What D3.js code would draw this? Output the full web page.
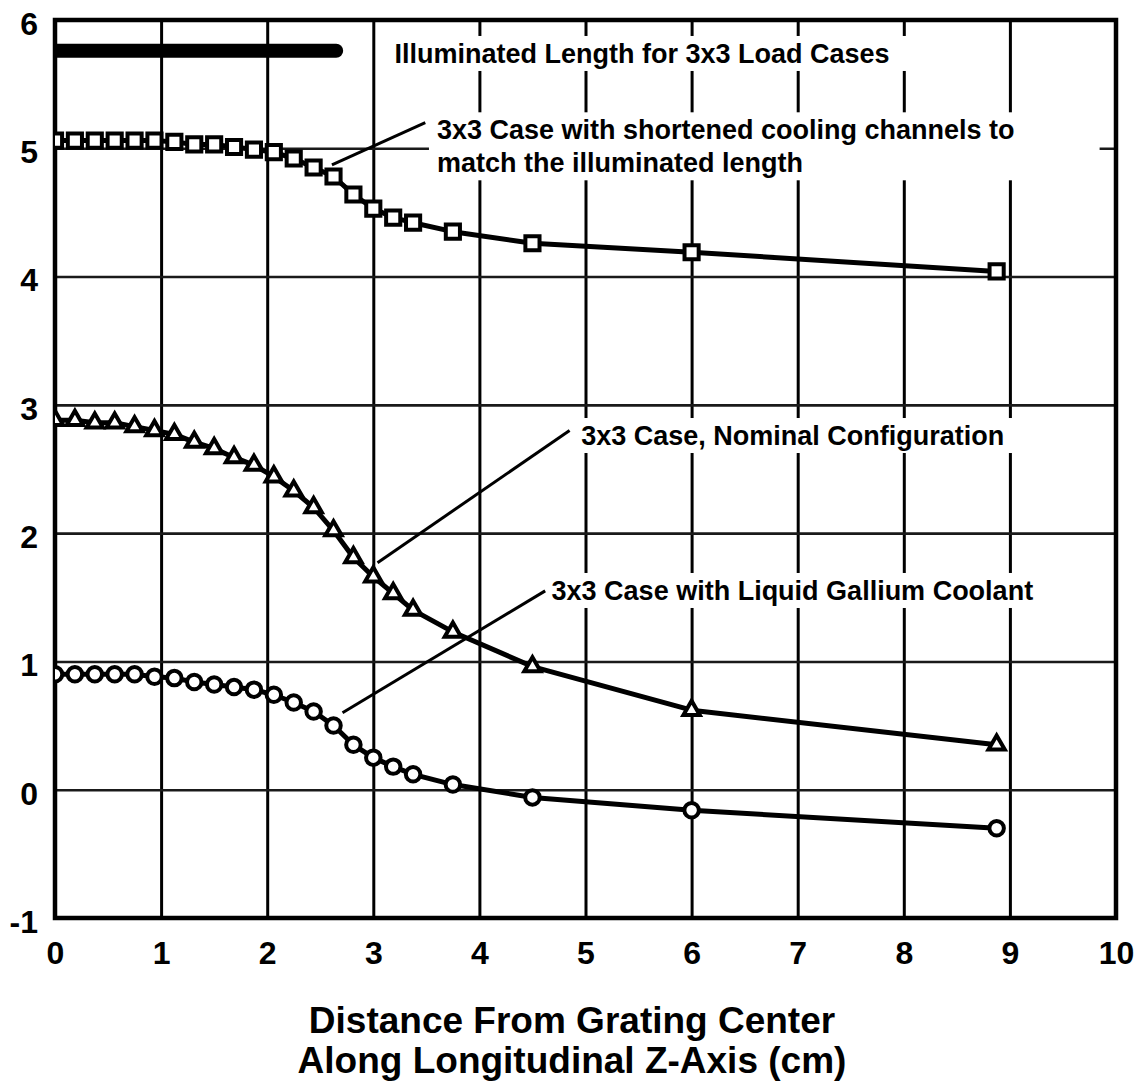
<!DOCTYPE html>
<html>
<head>
<meta charset="utf-8">
<script src="https://cdn.jsdelivr.net/npm/d3@7"></script>
<style>
  body { margin: 0; background: #fff; }
  text { font-family: "Liberation Sans", Arial, Helvetica, sans-serif; font-weight: bold; fill: #000; }
</style>
</head>
<body>
<div id="chart-container"></div>
<script>
// Distance along z-axis (cm), shared by all three load cases
const distance = [0, 0.1875, 0.375, 0.5625, 0.75, 0.9375, 1.125, 1.3125, 1.5, 1.6875, 1.875, 2.0625,
  2.25, 2.4375, 2.625, 2.8125, 3.0, 3.1875, 3.375, 3.75, 4.5, 6.0, 8.875];

const shortenedChannels = [5.06, 5.06, 5.06, 5.06, 5.06, 5.06, 5.05, 5.03, 5.03, 5.01, 4.99, 4.97,
  4.92, 4.85, 4.78, 4.64, 4.53, 4.46, 4.42, 4.35, 4.26, 4.19, 4.04];
const nominal = [2.88, 2.88, 2.86, 2.86, 2.83, 2.80, 2.77, 2.71, 2.66, 2.59, 2.53, 2.44,
  2.33, 2.20, 2.02, 1.81, 1.66, 1.53, 1.40, 1.23, 0.96, 0.62, 0.35];
const gallium = [0.90, 0.90, 0.90, 0.90, 0.90, 0.88, 0.87, 0.84, 0.82, 0.80, 0.78, 0.74,
  0.68, 0.61, 0.50, 0.35, 0.25, 0.18, 0.12, 0.04, -0.06, -0.16, -0.30];

// illuminated length bar (x span and level)
const illuminatedSpan = [0, 2.65];
const illuminatedLevel = 5.76;

const xTicks = [0, 1, 2, 3, 4, 5, 6, 7, 8, 9, 10];
const yTicks = [-1, 0, 1, 2, 3, 4, 5, 6];
const xTitle = ["Distance From Grating Center", "Along Longitudinal Z-Axis (cm)"];

// annotation texts, anchored in data units (start of first baseline)
const annotations = [
  {lines: ["Illuminated Length for 3x3 Load Cases"], x: 3.20, y: 5.665, padRight: 30},
  {lines: ["3x3 Case with shortened cooling channels to", "match the illuminated length"], x: 3.60, y: 5.07, padRight: 85},
  {lines: ["3x3 Case, Nominal Configuration"], x: 4.96, y: 2.687, padRight: 15},
  {lines: ["3x3 Case with Liquid Gallium Coolant"], x: 4.68, y: 1.479, padRight: 6}
];
// leader lines from curve to label, data units
const leaders = [
  [[2.61, 4.87], [3.49, 5.20]],
  [[3.04, 1.77], [4.85, 2.80]],
  [[2.71, 0.60], [4.62, 1.55]]
];

const margin = {top: 20, right: 24, bottom: 168, left: 55};
const width = 1140 - margin.left - margin.right;
const height = 1086 - margin.top - margin.bottom;

const svg = d3.select("#chart-container")
  .append("svg")
    .attr("width", width + margin.left + margin.right)
    .attr("height", height + margin.top + margin.bottom)
  .append("g")
    .attr("transform", `translate(${margin.left},${margin.top})`);

const xScale = d3.scaleLinear().domain([0, 10]).range([0, width]);
const yScale = d3.scaleLinear().domain([-1, 6]).range([height, 0]);

svg.append("clipPath").attr("id", "plot-clip")
  .append("rect").attr("width", width).attr("height", height);

// grid lines
svg.append("g")
  .attr("transform", `translate(0,${height})`)
  .call(d3.axisBottom(xScale).tickValues(xTicks.slice(1, -1)).tickSize(-height).tickFormat(""))
  .call(g => g.select(".domain").remove())
  .call(g => g.selectAll("line").attr("stroke", "#000").attr("stroke-width", 3));
svg.append("g")
  .call(d3.axisLeft(yScale).tickValues(yTicks.slice(1, -1)).tickSize(-width).tickFormat(""))
  .call(g => g.select(".domain").remove())
  .call(g => g.selectAll("line").attr("stroke", "#1a1a1a").attr("stroke-width", 2.6));

// tick labels
svg.append("g")
  .attr("transform", `translate(0,${height})`)
  .call(d3.axisBottom(xScale).tickValues(xTicks).tickSize(0).tickPadding(23).tickFormat(d => String(d)))
  .call(g => g.select(".domain").remove())
  .call(g => g.selectAll("text").style("font-size", "32px").attr("fill", "#000"));
svg.append("g")
  .call(d3.axisLeft(yScale).tickValues(yTicks).tickSize(0).tickPadding(17).tickFormat(d => String(d)))
  .call(g => g.select(".domain").remove())
  .call(g => g.selectAll("text").style("font-size", "32px").attr("dy", "0.45em").attr("fill", "#000"));

// white boxes behind the labels hide the grid, then the labels
const labelGroup = svg.append("g");
annotations.forEach(a => {
  const g = labelGroup.append("g");
  const box = g.append("rect").attr("fill", "#fff");
  const t = g.append("text")
    .attr("x", xScale(a.x))
    .attr("y", yScale(a.y))
    .style("font-size", "27px");
  a.lines.forEach((line, i) => {
    t.append("tspan").attr("x", xScale(a.x)).attr("dy", i === 0 ? 0 : 33).text(line);
  });
  const bb = t.node().getBBox();
  box.attr("x", bb.x - 8).attr("y", bb.y - 3)
    .attr("width", bb.width + 8 + a.padRight).attr("height", bb.height + 5);
});

// plot border
svg.append("rect")
  .attr("width", width).attr("height", height)
  .attr("fill", "none").attr("stroke", "#000").attr("stroke-width", 4.5);

const plot = svg.append("g").attr("clip-path", "url(#plot-clip)");

// illuminated length bar
plot.append("line")
  .attr("x1", xScale(illuminatedSpan[0])).attr("x2", xScale(illuminatedSpan[1]))
  .attr("y1", yScale(illuminatedLevel)).attr("y2", yScale(illuminatedLevel))
  .attr("stroke", "#000").attr("stroke-width", 14).attr("stroke-linecap", "round");

const line = d3.line()
  .x((d, i) => xScale(distance[i]))
  .y(d => yScale(d));

const series = [
  {values: shortenedChannels, symbol: d3.symbolSquare, size: 200},
  {values: nominal, symbol: d3.symbolTriangle, size: 115},
  {values: gallium, symbol: d3.symbolCircle, size: 165}
];

series.forEach(s => {
  plot.append("path")
    .datum(s.values)
    .attr("fill", "none")
    .attr("stroke", "#000")
    .attr("stroke-width", 5)
    .attr("stroke-linejoin", "round")
    .attr("d", line);
  plot.selectAll(null)
    .data(s.values)
    .enter().append("path")
    .attr("transform", (d, i) => `translate(${xScale(distance[i])},${yScale(d)})`)
    .attr("d", d3.symbol().type(s.symbol).size(s.size))
    .attr("fill", "#fff")
    .attr("stroke", "#000")
    .attr("stroke-width", 4);
});

// leader lines
leaders.forEach(([p0, p1]) => {
  svg.append("line")
    .attr("x1", xScale(p0[0])).attr("y1", yScale(p0[1]))
    .attr("x2", xScale(p1[0])).attr("y2", yScale(p1[1]))
    .attr("stroke", "#000").attr("stroke-width", 3);
});

// x axis title
svg.append("text")
  .attr("text-anchor", "middle")
  .attr("x", 572 - margin.left)
  .attr("y", height + 115)
  .style("font-size", "37px")
  .selectAll("tspan")
  .data(xTitle)
  .enter().append("tspan")
    .attr("x", 572 - margin.left)
    .attr("dy", (d, i) => i === 0 ? 0 : 40)
    .text(d => d);
</script>
</body>
</html>
